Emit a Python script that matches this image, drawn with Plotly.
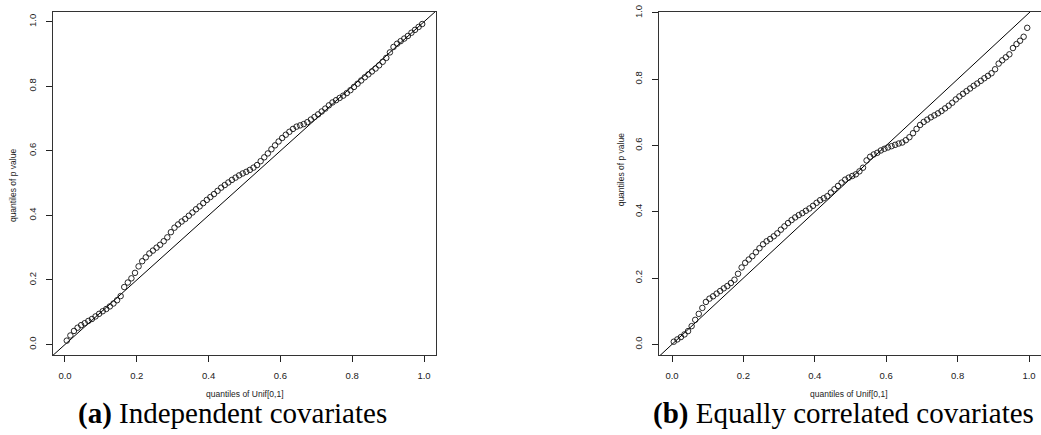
import plotly.graph_objects as go

# theoretical quantiles of Unif[0,1]
unif_quantiles = [
    0.005, 0.015, 0.025, 0.035, 0.045, 0.055, 0.065, 0.075, 0.085, 0.095,
    0.105, 0.115, 0.125, 0.135, 0.145, 0.155, 0.165, 0.175, 0.185, 0.195,
    0.205, 0.215, 0.225, 0.235, 0.245, 0.255, 0.265, 0.275, 0.285, 0.295,
    0.305, 0.315, 0.325, 0.335, 0.345, 0.355, 0.365, 0.375, 0.385, 0.395,
    0.405, 0.415, 0.425, 0.435, 0.445, 0.455, 0.465, 0.475, 0.485, 0.495,
    0.505, 0.515, 0.525, 0.535, 0.545, 0.555, 0.565, 0.575, 0.585, 0.595,
    0.605, 0.615, 0.625, 0.635, 0.645, 0.655, 0.665, 0.675, 0.685, 0.695,
    0.705, 0.715, 0.725, 0.735, 0.745, 0.755, 0.765, 0.775, 0.785, 0.795,
    0.805, 0.815, 0.825, 0.835, 0.845, 0.855, 0.865, 0.875, 0.885, 0.895,
    0.905, 0.915, 0.925, 0.935, 0.945, 0.955, 0.965, 0.975, 0.985, 0.995,
]

# (a) Independent covariates: quantiles of p value
pval_independent = [
    0.012, 0.028, 0.042, 0.052, 0.060, 0.066, 0.073, 0.079, 0.087, 0.095,
    0.103, 0.110, 0.118, 0.127, 0.137, 0.150, 0.178, 0.192, 0.205, 0.222,
    0.242, 0.258, 0.270, 0.282, 0.291, 0.300, 0.309, 0.320, 0.332, 0.348,
    0.362, 0.372, 0.381, 0.389, 0.399, 0.409, 0.419, 0.428, 0.438, 0.448,
    0.457, 0.466, 0.476, 0.486, 0.494, 0.502, 0.510, 0.517, 0.524, 0.530,
    0.535, 0.541, 0.548, 0.556, 0.568, 0.580, 0.592, 0.605, 0.617, 0.629,
    0.640, 0.650, 0.659, 0.668, 0.675, 0.679, 0.683, 0.689, 0.697, 0.705,
    0.713, 0.722, 0.731, 0.741, 0.750, 0.757, 0.764, 0.771, 0.779, 0.788,
    0.798, 0.808, 0.818, 0.828, 0.837, 0.846, 0.855, 0.865, 0.876, 0.888,
    0.905, 0.922, 0.932, 0.940, 0.948, 0.956, 0.966, 0.975, 0.984, 0.993,
]

# (b) Equally correlated covariates: quantiles of p value
pval_correlated = [
    0.008, 0.015, 0.022, 0.030, 0.040, 0.055, 0.074, 0.092, 0.110, 0.128,
    0.138, 0.145, 0.153, 0.161, 0.169, 0.176, 0.185, 0.195, 0.213, 0.232,
    0.246, 0.256, 0.266, 0.278, 0.290, 0.302, 0.311, 0.318, 0.326, 0.335,
    0.346, 0.356, 0.366, 0.375, 0.383, 0.390, 0.396, 0.403, 0.410, 0.418,
    0.427, 0.435, 0.441, 0.447, 0.458, 0.468, 0.478, 0.488, 0.497, 0.503,
    0.508, 0.513, 0.522, 0.533, 0.555, 0.566, 0.573, 0.578, 0.585, 0.590,
    0.594, 0.598, 0.602, 0.606, 0.609, 0.616, 0.625, 0.637, 0.650, 0.662,
    0.671, 0.678, 0.685, 0.691, 0.697, 0.704, 0.712, 0.720, 0.729, 0.739,
    0.748, 0.756, 0.764, 0.772, 0.780, 0.787, 0.795, 0.803, 0.810, 0.818,
    0.830, 0.847, 0.857, 0.866, 0.875, 0.894, 0.906, 0.916, 0.928, 0.955,
]

tick_vals = [0.0, 0.2, 0.4, 0.6, 0.8, 1.0]
tick_text = ["0.0", "0.2", "0.4", "0.6", "0.8", "1.0"]
ref_line = [-0.1, 1.1]

x_title = "quantiles of Unif[0,1]"
y_title = "quantiles of p value"
captions = ["<b>(a)</b> Independent covariates", "<b>(b)</b> Equally correlated covariates"]

W, H = 1041, 435
INK = "#222222"
TICKFONT = dict(family="Liberation Sans, Arial, sans-serif", size=9.5, color=INK)

fig = go.Figure()

marker = dict(symbol="circle-open", size=5.5, color="#111111",
              line=dict(width=0.9, color="#111111"))

fig.add_trace(go.Scatter(x=ref_line, y=ref_line, mode="lines",
                         line=dict(color="black", width=1), xaxis="x", yaxis="y",
                         showlegend=False, hoverinfo="skip"))
fig.add_trace(go.Scatter(x=unif_quantiles, y=pval_independent, mode="markers",
                         marker=marker, xaxis="x", yaxis="y", showlegend=False))
fig.add_trace(go.Scatter(x=ref_line, y=ref_line, mode="lines",
                         line=dict(color="black", width=1), xaxis="x2", yaxis="y2",
                         showlegend=False, hoverinfo="skip"))
fig.add_trace(go.Scatter(x=unif_quantiles, y=pval_correlated, mode="markers",
                         marker=marker, xaxis="x2", yaxis="y2", showlegend=False))

ydom = [(H - 354) / H, (H - 5) / H]

common_x = dict(tickmode="array", tickvals=tick_vals, ticktext=tick_text,
                ticks="outside", ticklen=6, tickwidth=1, tickcolor=INK,
                showline=True, linecolor="#333333", linewidth=1,
                showgrid=False, zeroline=False, tickfont=TICKFONT,
                ticklabelstandoff=5)
common_y = dict(tickmode="array", tickvals=tick_vals, ticktext=tick_text,
                ticks="outside", ticklen=6, tickwidth=1, tickcolor=INK,
                showline=True, linecolor="#333333", linewidth=1,
                showgrid=False, zeroline=False, tickfont=TICKFONT,
                tickangle=-90, ticklabelstandoff=6, ticklabeloverflow="allow")

fig.update_layout(
    width=W, height=H,
    margin=dict(l=0, r=0, t=0, b=0),
    paper_bgcolor="white", plot_bgcolor="white",
    xaxis=dict(domain=[53 / W, 436 / W], range=[-0.0334, 1.0334], anchor="y",
               mirror=True, **common_x),
    yaxis=dict(domain=ydom, range=[-0.0335, 1.0305], anchor="x",
               mirror=True, **common_y),
    xaxis2=dict(domain=[659 / W, 1.0], range=[-0.0364, 1.0336], anchor="y2",
                mirror=True, **common_x),
    yaxis2=dict(domain=ydom, range=[-0.033, 1.003], anchor="x2",
                mirror=False, **common_y),
)

TITLEFONT = dict(family="Liberation Sans, Arial, sans-serif", size=8.5, color=INK)
CAPFONT = dict(family="Liberation Serif, Times New Roman, serif", size=29, color="black")

annotations = [
    dict(text=x_title, x=245 / W, y=(H - 393) / H, font=TITLEFONT),
    dict(text=x_title, x=849 / W, y=(H - 393) / H, font=TITLEFONT),
    dict(text=y_title, x=13 / W, y=(H - 181) / H, textangle=-90, font=TITLEFONT),
    dict(text=y_title, x=621 / W, y=(H - 165) / H, textangle=-90, font=TITLEFONT),
    dict(text=captions[0], x=232 / W, y=(H - 413) / H, font=CAPFONT),
    dict(text=captions[1], x=843 / W, y=(H - 413) / H, font=CAPFONT),
]
for a in annotations:
    a.update(xref="paper", yref="paper", xanchor="center", yanchor="middle",
             showarrow=False)
fig.update_layout(annotations=annotations)

fig.write_html("out.html")
